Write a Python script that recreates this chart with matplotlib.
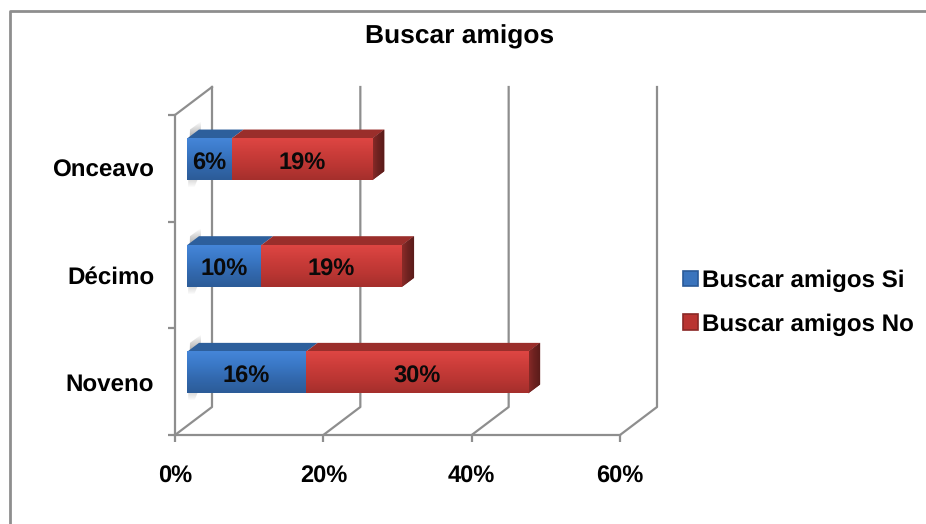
import numpy as np
import matplotlib
matplotlib.use("Agg")
import matplotlib.pyplot as plt
from matplotlib.colors import LinearSegmentedColormap
from matplotlib.lines import Line2D
from matplotlib.patches import Patch, Polygon
from matplotlib.transforms import Affine2D, IdentityTransform

plt.rcParams['font.family'] = ['Liberation Sans', 'DejaVu Sans']
plt.rcParams['font.weight'] = 'bold'
plt.rcParams['text.hinting'] = 'no_hinting'

categories = ['Noveno', 'Décimo', 'Onceavo']
values_si = [16, 10, 6]
values_no = [30, 19, 19]
x_ticks = [0, 20, 40, 60]

W, H = 926, 524
GRID = '#8e8e8e'
WALL_DX, WALL_DY = 37, 28
BAR_DX, BAR_DY = 12, 9
BAR_H = 0.39

blue_face = LinearSegmentedColormap.from_list('b', ['#2c5c98', '#3268ad', '#3a78c6', '#4586d8'])
red_face = LinearSegmentedColormap.from_list('r', ['#a52f2c', '#bb3633', '#cc3d3a', '#de4643'])
dark_side = LinearSegmentedColormap.from_list('d', ['#8a2b28', '#6e2220', '#5c1c1a'])

fig = plt.figure(figsize=(W / 100, H / 100), dpi=100, facecolor='white')
ax = fig.add_axes([175 / W, 1 - 435 / H, 445 / W, 320 / H])
ax.set_facecolor('none')
ax.set_xlim(0, 60)
ax.set_ylim(0, 3)
ax.autoscale(False)
px = IdentityTransform()


def to_px(x, y, dx=0, dy=0):
    p = ax.transData.transform((x, y))
    return p[0] + dx, p[1] + dy


def draw_segment(start, val, y, face, top):
    front = ax.transData + Affine2D().translate(BAR_DX, BAR_DY)
    lo, hi = y - BAR_H / 2, y + BAR_H / 2
    grad = np.linspace(1, 0, 64).reshape(-1, 1)
    ax.imshow(grad, cmap=face, extent=(start, start + val, lo, hi), transform=front,
              aspect='auto', zorder=4, vmin=0, vmax=1, origin='upper')
    a = to_px(start, hi, BAR_DX, BAR_DY)
    b = to_px(start + val, hi, BAR_DX, BAR_DY)
    ax.add_patch(Polygon([a, b, (b[0] + BAR_DX, b[1] + BAR_DY), (a[0] + BAR_DX, a[1] + BAR_DY)],
                         closed=True, fc=top, ec='none', transform=px, zorder=3, clip_on=False))
    label_pos = front + Affine2D().translate(0, -4)
    ax.text(start + val / 2, y, f'{val}%', transform=label_pos, ha='center', va='center',
            fontsize=17, color='#0a0a0a', zorder=6)


def draw_end(end, y):
    lo, hi = y - BAR_H / 2, y + BAR_H / 2
    p1 = to_px(end, hi, BAR_DX, BAR_DY)
    p2 = to_px(end, lo, BAR_DX, BAR_DY)
    poly = Polygon([p1, (p1[0] + BAR_DX, p1[1] + BAR_DY), (p2[0] + BAR_DX, p2[1] + BAR_DY), p2],
                   closed=True, fc='#6e2220', ec='none', transform=px, zorder=3)
    ax.add_patch(poly)
    img = ax.imshow(np.linspace(0, 1, 16).reshape(1, -1), cmap=dark_side, aspect='auto',
                    extent=(p1[0], p1[0] + BAR_DX, p2[1], p1[1] + BAR_DY),
                    transform=px, zorder=3, vmin=0, vmax=1)
    img.set_clip_path(poly)


def draw_shadow(y):
    # soft grey smudge the bar leaves on the side wall, above and below the bar
    lo, hi = y - BAR_H / 2, y + BAR_H / 2
    ax0, top = to_px(0, hi, BAR_DX, BAR_DY)
    _, bot = to_px(0, lo, BAR_DX, BAR_DY)
    upper, lower = top + 17, bot - 8
    rgba = np.ones((64, 2, 4)) * 0.5
    fade = np.interp(np.linspace(0, 1, 64), [0, 0.22, 0.75, 1], [0, 0.6, 0.6, 0])
    rgba[:, :, 3] = fade.reshape(-1, 1)
    poly = Polygon([(ax0 + 3, top + 9), (ax0 + 14, upper), (ax0 + 14, bot + 9),
                    (ax0 + 7, lower), (ax0 + 1, lower)],
                   closed=True, fc='none', ec='none', transform=px)
    ax.add_patch(poly)
    img = ax.imshow(rgba, aspect='auto', extent=(ax0, ax0 + 14, lower, upper),
                    transform=px, zorder=1)
    img.set_clip_path(poly)


# back wall and floor lines
for v in x_ticks:
    x0, y0 = to_px(v, 0)
    x1, y1 = to_px(v, 3, WALL_DX, WALL_DY)
    ax.add_line(Line2D([x0, x0 + WALL_DX, x1], [y0, y0 + WALL_DY, y1], color=GRID, lw=1.6,
                       transform=px, clip_on=False, zorder=1))
x0, y0 = to_px(0, 3)
ax.add_line(Line2D([x0, x0 + WALL_DX], [y0, y0 + WALL_DY], color=GRID, lw=1.6,
                   transform=px, clip_on=False, zorder=1))

for i, (si, no) in enumerate(zip(values_si, values_no)):
    y = i + 0.5
    draw_shadow(y)
    draw_segment(0, si, y, blue_face, '#2d5f9c')
    draw_segment(si, no, y, red_face, '#9a2e2b')
    draw_end(si + no, y)

ax.set_xlim(0, 60)
ax.set_ylim(0, 3)
ax.set_aspect('auto')

for side in ('top', 'right'):
    ax.spines[side].set_visible(False)
for side in ('left', 'bottom'):
    ax.spines[side].set_color(GRID)
    ax.spines[side].set_linewidth(1.6)

ax.set_xticks(x_ticks)
ax.set_xticklabels([f'{v}%' for v in x_ticks], fontsize=17)
ax.set_yticks([0, 1, 2, 3])
ax.set_yticklabels([])
ax.set_yticks([0.5, 1.5, 2.5], minor=True)
ax.set_yticklabels(categories, minor=True, fontsize=17.4)
ax.tick_params(axis='x', length=5, width=1.6, color=GRID, pad=16.7)
ax.tick_params(axis='y', which='major', length=5, width=1.6, color=GRID)
ax.tick_params(axis='y', which='minor', length=0, pad=15)
for label in ax.get_yticklabels(minor=True):
    label.set_verticalalignment('center_baseline')

fig.text(460 / W, 1 - 37 / H, 'Buscar amigos', ha='center', va='center', fontsize=19)

handles = [Patch(fc='#3a74bd', ec='#2a5a98', lw=1.2), Patch(fc='#b93431', ec='#8a2826', lw=1.2)]
fig.legend(handles, ['Buscar amigos Si', 'Buscar amigos No'], loc='center left',
           bbox_to_anchor=(676 / W, 1 - 302.5 / H), frameon=False, fontsize=17.4,
           handlelength=0.6, handleheight=0.6, handletextpad=0.17, labelspacing=0.88,
           borderpad=0.3, borderaxespad=0)

# outer frame, the picture is cropped on the right and bottom
fig.add_artist(Line2D([9.5 / W, 9.5 / W, 1], [0, 1 - 11 / H, 1 - 11 / H], color=GRID, lw=2,
                      transform=fig.transFigure))

fig.savefig('out.png', dpi=100)
